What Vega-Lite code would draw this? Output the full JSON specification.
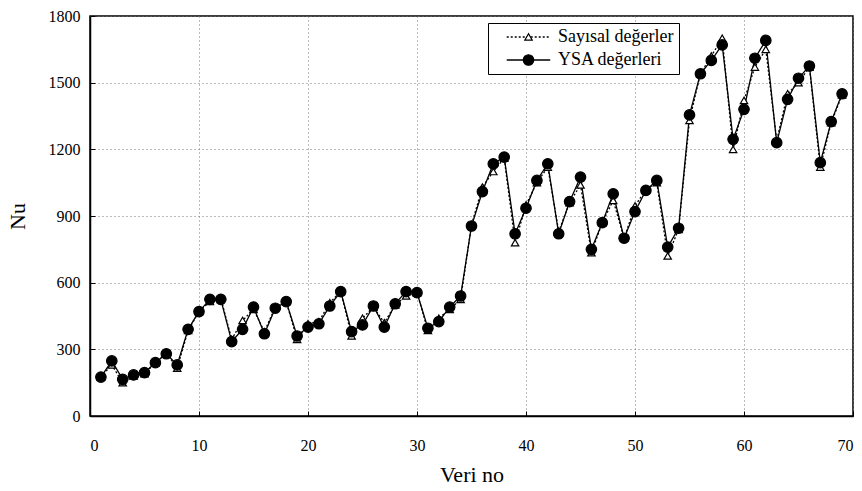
{
  "$schema": "https://vega.github.io/schema/vega-lite/v6.json",
  "width": 763,
  "height": 400,
  "autosize": "none",
  "padding": {"left": 90, "top": 16, "right": 9, "bottom": 75},
  "background": "white",
  "config": {
    "font": "Liberation Serif",
    "view": {"stroke": "black", "strokeWidth": 1.5},
    "axis": {
      "labelFont": "Liberation Serif",
      "titleFont": "Liberation Serif",
      "labelFontSize": 16,
      "titleFontSize": 22,
      "titleFontWeight": "normal",
      "labelColor": "black",
      "titleColor": "black",
      "domainColor": "black",
      "domainWidth": 1.5,
      "tickColor": "black",
      "gridColor": "#777",
      "gridDash": [1, 3],
      "gridWidth": 1
    },
    "legend": {
      "labelFont": "Liberation Serif"
    }
  },
  "data": {
    "values": [
      {"x":1,"s":"Sayısal değerler","v":175},{"x":1,"s":"YSA değerleri","v":175},
      {"x":2,"s":"Sayısal değerler","v":230},{"x":2,"s":"YSA değerleri","v":248},
      {"x":3,"s":"Sayısal değerler","v":150},{"x":3,"s":"YSA değerleri","v":165},
      {"x":4,"s":"Sayısal değerler","v":180},{"x":4,"s":"YSA değerleri","v":185},
      {"x":5,"s":"Sayısal değerler","v":190},{"x":5,"s":"YSA değerleri","v":195},
      {"x":6,"s":"Sayısal değerler","v":240},{"x":6,"s":"YSA değerleri","v":240},
      {"x":7,"s":"Sayısal değerler","v":285},{"x":7,"s":"YSA değerleri","v":280},
      {"x":8,"s":"Sayısal değerler","v":215},{"x":8,"s":"YSA değerleri","v":230},
      {"x":9,"s":"Sayısal değerler","v":385},{"x":9,"s":"YSA değerleri","v":390},
      {"x":10,"s":"Sayısal değerler","v":470},{"x":10,"s":"YSA değerleri","v":470},
      {"x":11,"s":"Sayısal değerler","v":515},{"x":11,"s":"YSA değerleri","v":525},
      {"x":12,"s":"Sayısal değerler","v":530},{"x":12,"s":"YSA değerleri","v":525},
      {"x":13,"s":"Sayısal değerler","v":345},{"x":13,"s":"YSA değerleri","v":335},
      {"x":14,"s":"Sayısal değerler","v":430},{"x":14,"s":"YSA değerleri","v":390},
      {"x":15,"s":"Sayısal değerler","v":480},{"x":15,"s":"YSA değerleri","v":490},
      {"x":16,"s":"Sayısal değerler","v":380},{"x":16,"s":"YSA değerleri","v":370},
      {"x":17,"s":"Sayısal değerler","v":490},{"x":17,"s":"YSA değerleri","v":485},
      {"x":18,"s":"Sayısal değerler","v":515},{"x":18,"s":"YSA değerleri","v":515},
      {"x":19,"s":"Sayısal değerler","v":345},{"x":19,"s":"YSA değerleri","v":360},
      {"x":20,"s":"Sayısal değerler","v":415},{"x":20,"s":"YSA değerleri","v":400},
      {"x":21,"s":"Sayısal değerler","v":425},{"x":21,"s":"YSA değerleri","v":415},
      {"x":22,"s":"Sayısal değerler","v":510},{"x":22,"s":"YSA değerleri","v":495},
      {"x":23,"s":"Sayısal değerler","v":560},{"x":23,"s":"YSA değerleri","v":560},
      {"x":24,"s":"Sayısal değerler","v":360},{"x":24,"s":"YSA değerleri","v":380},
      {"x":25,"s":"Sayısal değerler","v":440},{"x":25,"s":"YSA değerleri","v":410},
      {"x":26,"s":"Sayısal değerler","v":490},{"x":26,"s":"YSA değerleri","v":495},
      {"x":27,"s":"Sayısal değerler","v":420},{"x":27,"s":"YSA değerleri","v":400},
      {"x":28,"s":"Sayısal değerler","v":500},{"x":28,"s":"YSA değerleri","v":505},
      {"x":29,"s":"Sayısal değerler","v":540},{"x":29,"s":"YSA değerleri","v":560},
      {"x":30,"s":"Sayısal değerler","v":555},{"x":30,"s":"YSA değerleri","v":555},
      {"x":31,"s":"Sayısal değerler","v":385},{"x":31,"s":"YSA değerleri","v":395},
      {"x":32,"s":"Sayısal değerler","v":440},{"x":32,"s":"YSA değerleri","v":425},
      {"x":33,"s":"Sayısal değerler","v":480},{"x":33,"s":"YSA değerleri","v":490},
      {"x":34,"s":"Sayısal değerler","v":525},{"x":34,"s":"YSA değerleri","v":540},
      {"x":35,"s":"Sayısal değerler","v":860},{"x":35,"s":"YSA değerleri","v":855},
      {"x":36,"s":"Sayısal değerler","v":1030},{"x":36,"s":"YSA değerleri","v":1010},
      {"x":37,"s":"Sayısal değerler","v":1100},{"x":37,"s":"YSA değerleri","v":1135},
      {"x":38,"s":"Sayısal değerler","v":1160},{"x":38,"s":"YSA değerleri","v":1165},
      {"x":39,"s":"Sayısal değerler","v":780},{"x":39,"s":"YSA değerleri","v":820},
      {"x":40,"s":"Sayısal değerler","v":950},{"x":40,"s":"YSA değerleri","v":935},
      {"x":41,"s":"Sayısal değerler","v":1050},{"x":41,"s":"YSA değerleri","v":1060},
      {"x":42,"s":"Sayısal değerler","v":1120},{"x":42,"s":"YSA değerleri","v":1135},
      {"x":43,"s":"Sayısal değerler","v":830},{"x":43,"s":"YSA değerleri","v":820},
      {"x":44,"s":"Sayısal değerler","v":960},{"x":44,"s":"YSA değerleri","v":965},
      {"x":45,"s":"Sayısal değerler","v":1040},{"x":45,"s":"YSA değerleri","v":1075},
      {"x":46,"s":"Sayısal değerler","v":735},{"x":46,"s":"YSA değerleri","v":750},
      {"x":47,"s":"Sayısal değerler","v":870},{"x":47,"s":"YSA değerleri","v":870},
      {"x":48,"s":"Sayısal değerler","v":970},{"x":48,"s":"YSA değerleri","v":1000},
      {"x":49,"s":"Sayısal değerler","v":800},{"x":49,"s":"YSA değerleri","v":800},
      {"x":50,"s":"Sayısal değerler","v":945},{"x":50,"s":"YSA değerleri","v":920},
      {"x":51,"s":"Sayısal değerler","v":1020},{"x":51,"s":"YSA değerleri","v":1015},
      {"x":52,"s":"Sayısal değerler","v":1050},{"x":52,"s":"YSA değerleri","v":1060},
      {"x":53,"s":"Sayısal değerler","v":720},{"x":53,"s":"YSA değerleri","v":760},
      {"x":54,"s":"Sayısal değerler","v":840},{"x":54,"s":"YSA değerleri","v":845},
      {"x":55,"s":"Sayısal değerler","v":1330},{"x":55,"s":"YSA değerleri","v":1355},
      {"x":56,"s":"Sayısal değerler","v":1540},{"x":56,"s":"YSA değerleri","v":1540},
      {"x":57,"s":"Sayısal değerler","v":1620},{"x":57,"s":"YSA değerleri","v":1600},
      {"x":58,"s":"Sayısal değerler","v":1700},{"x":58,"s":"YSA değerleri","v":1670},
      {"x":59,"s":"Sayısal değerler","v":1200},{"x":59,"s":"YSA değerleri","v":1245},
      {"x":60,"s":"Sayısal değerler","v":1420},{"x":60,"s":"YSA değerleri","v":1380},
      {"x":61,"s":"Sayısal değerler","v":1570},{"x":61,"s":"YSA değerleri","v":1610},
      {"x":62,"s":"Sayısal değerler","v":1650},{"x":62,"s":"YSA değerleri","v":1690},
      {"x":63,"s":"Sayısal değerler","v":1240},{"x":63,"s":"YSA değerleri","v":1230},
      {"x":64,"s":"Sayısal değerler","v":1450},{"x":64,"s":"YSA değerleri","v":1425},
      {"x":65,"s":"Sayısal değerler","v":1500},{"x":65,"s":"YSA değerleri","v":1520},
      {"x":66,"s":"Sayısal değerler","v":1570},{"x":66,"s":"YSA değerleri","v":1575},
      {"x":67,"s":"Sayısal değerler","v":1120},{"x":67,"s":"YSA değerleri","v":1140},
      {"x":68,"s":"Sayısal değerler","v":1320},{"x":68,"s":"YSA değerleri","v":1325},
      {"x":69,"s":"Sayısal değerler","v":1445},{"x":69,"s":"YSA değerleri","v":1450}
    ]
  },
  "encoding": {
    "x": {
      "field": "x", "type": "quantitative",
      "scale": {"domain": [0, 70], "nice": false},
      "axis": {"values": [0,10,20,30,40,50,60,70], "format": "d", "title": "Veri no", "tickSize": -5, "labelPadding": 26, "titlePadding": 11, "grid": true}
    },
    "y": {
      "field": "v", "type": "quantitative",
      "scale": {"domain": [0, 1800], "nice": false},
      "axis": {"values": [0,300,600,900,1200,1500,1800], "format": "d", "title": "Nu", "tickSize": -5, "labelPadding": 15, "titlePadding": 19, "grid": true}
    }
  },
  "layer": [
    {
      "mark": {"type": "line", "color": "black", "strokeWidth": 1.3},
      "encoding": {
        "detail": {"field": "s"},
        "strokeDash": {
          "field": "s", "type": "nominal",
          "scale": {"domain": ["Sayısal değerler", "YSA değerleri"], "range": [[2, 2], [1, 0]]},
          "legend": {
            "title": null,
            "orient": "none",
            "legendX": 398,
            "legendY": 7,
            "direction": "vertical",
            "strokeColor": "black",
            "fillColor": "white",
            "padding": 5,
            "labelFont": "Liberation Serif",
            "labelFontSize": 18,
            "labelColor": "black",
            "symbolType": "M0.9,0H9.2",
            "symbolStrokeColor": "black",
            "symbolStrokeWidth": 1.3,
            "symbolSize": 110,
            "rowPadding": 5,
            "labelOffset": 47
          }
        }
      }
    },
    {
      "mark": {"type": "point", "opacity": 1, "strokeWidth": 1.2, "color": "black"},
      "encoding": {
        "shape": {
          "field": "s", "type": "nominal",
          "scale": {"range": ["triangle-up", "circle"]},
          "legend": {
            "title": null,
            "orient": "none",
            "legendX": 424.5,
            "legendY": 7,
            "direction": "vertical",
            "padding": 5,
            "labelFont": "Liberation Serif",
            "labelFontSize": 18,
            "labelOpacity": 0,
            "labelExpr": "' '",
            "symbolStrokeColor": "black",
            "symbolStrokeWidth": 1.2,
            "symbolOpacity": 1,
            "rowPadding": 5,
            "labelOffset": 47
          }
        },
        "fill": {
          "field": "s", "type": "nominal",
          "scale": {"range": ["white", "black"]}
        },
        "size": {
          "field": "s", "type": "nominal",
          "scale": {"range": [55, 110]}
        }
      }
    }
  ]
}
